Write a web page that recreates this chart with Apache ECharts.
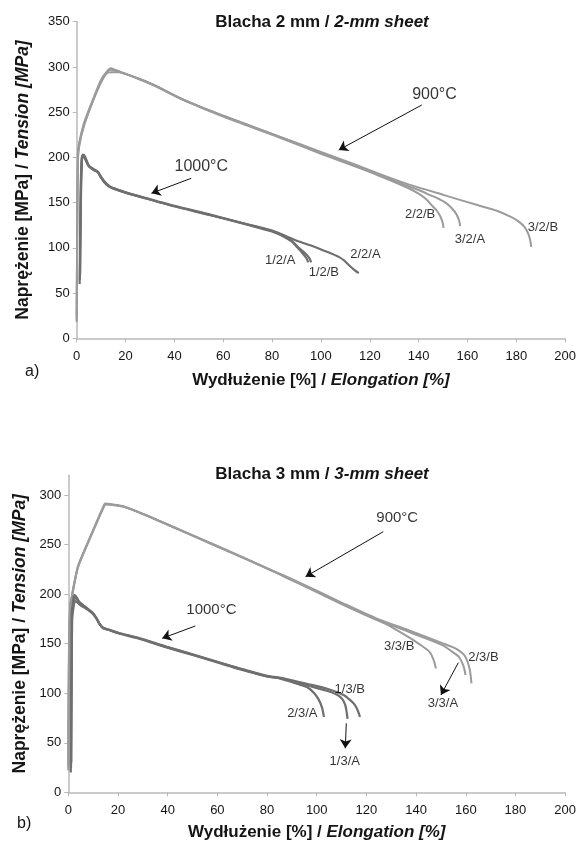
<!DOCTYPE html>
<html><head><meta charset="utf-8">
<script src="https://cdn.jsdelivr.net/npm/echarts@6/dist/echarts.min.js"></script>
<style>html,body{margin:0;padding:0;background:#fff}#c{width:579px;height:848px}</style>
</head><body><div id="c"></div>
<script>
// ---------- DATA ----------
const xTicks = [0, 20, 40, 60, 80, 100, 120, 140, 160, 180, 200];
const yTicksTop = [0, 50, 100, 150, 200, 250, 300, 350];
const yTicksBottom = [0, 50, 100, 150, 200, 250, 300];

// (a) 2-mm sheet, 900°C
const a900_22B = [[0,20],[0.2,120],[0.5,200],[1,214],[3,236],[6.5,262],[10,284],[12.6,295],[14,297],[17,295],[27,285.5],[31.6,280],[43.5,264],[60,245],[83,222],[100,204],[115,189],[123.6,180],[135,167],[140,160],[143,154],[145.4,147],[147.5,141],[149.2,133],[150,126],[150.2,122]];
const a900_32A = [[0,25],[0.2,130],[0.5,205],[1,216],[3,238],[6.5,263],[10,286],[13,297],[14,298.5],[15.5,297],[18,294.5],[27,285],[31.6,280],[43.5,264],[60,246],[83,223],[100,205],[115,190],[123.6,181],[135,169],[140,164],[145,158],[148,154.5],[151,150],[153.5,144],[155.5,137],[156.6,130],[157,124]];
const a900_32B = [[0,18],[0.2,110],[0.5,195],[1,212],[3,235],[6.5,261],[10,283],[12.6,293.5],[14,294],[17,294],[27,285],[31.6,279.5],[43.5,263.5],[60,246],[83,223],[100,206],[115,191],[123.6,182],[135,171],[150.8,158],[164.4,147],[172,141],[178,134],[181,129],[183.4,123],[185,115],[185.8,107],[186.1,101]];
// (a) 2-mm sheet, 1000°C
const a1000_12A = [[1.2,60],[1.6,160],[2,198],[2.4,202],[3.2,200],[5,190],[7,186],[8.6,184],[9.9,178],[11.5,172],[13.3,168],[15,165.8],[20,161],[25.8,156.5],[40,146],[55,136],[70.6,125],[80,118],[85,112],[88,107],[90.5,100],[92.8,93],[94.2,88],[94.8,84]];
const a1000_12B = [[1.4,70],[1.8,165],[2.2,199],[2.6,203],[3.4,201],[5,191],[7,187],[8.6,184.5],[9.9,179],[11.5,173],[13.3,168.5],[15,166],[20,161.5],[25.8,157],[40,146.5],[55,136.5],[70.6,125.5],[80,118.5],[85,113],[88,108],[91,100],[93.5,94],[95.2,89],[96,84]];
const a1000_22A = [[1.3,65],[1.7,160],[2.1,197],[2.5,201],[3.3,199],[5,190],[7,186],[8.6,183.5],[9.9,178],[11.5,172],[13.3,167.5],[15,165.5],[20,161],[25.8,156.5],[40,146],[55,136],[70.6,125.5],[80,119],[91,107],[96,102.5],[100.5,97.6],[104,94],[107.3,90],[109.5,86],[111.4,81],[113.5,76],[115.5,72]];

// (b) 3-mm sheet, 900°C
const b900_33B = [[0,25],[0.3,150],[0.8,190],[1.2,194],[1.9,204],[3.9,227.6],[7.8,251.3],[11.8,274.8],[14.6,290],[15.1,291],[18,290],[22.4,288],[31,279.8],[50,259],[70,237],[84.3,221],[88.3,216],[100,202],[110,190],[124,174],[130,167],[137.3,156],[141,150],[145.3,142],[147,134],[148,125]];
const b900_33A = [[0,22],[0.3,145],[0.8,188],[1.2,193],[1.9,203],[3.9,227],[7.8,251],[11.8,274],[14.6,289.5],[15.1,290.5],[18,290],[22.4,288.2],[31,279.8],[50,259],[70,237],[84.3,221],[88.3,216.5],[100,202.5],[110,190.5],[124,174.5],[137,162],[150.6,148.6],[155,141],[157.2,136.8],[159,128],[159.9,118.4]];
const b900_23B = [[0,28],[0.3,155],[0.8,192],[1.2,195],[1.9,205],[3.9,228],[7.8,252],[11.8,275],[14.6,291],[15.1,291.5],[18,290.5],[22.4,288.5],[31,280],[50,259.5],[70,237.5],[84.3,221.5],[88.3,217],[100,203.5],[110,191.5],[124,175.5],[137,163.5],[150.6,150.5],[156,145],[159.5,138],[161.5,125],[162.3,110]];
// (b) 3-mm sheet, 1000°C
const b1000_23A = [[1.0,20],[1.2,120],[1.4,180],[2.0,195],[2.5,199],[3.3,197],[4.5,192],[6,189],[8,185],[10,180.6],[11.5,175],[12.6,170],[14,166],[16.6,163.8],[20,161],[28.5,155.4],[39.2,147],[50,139],[60,131.5],[70,124],[80,117],[84.3,115.5],[88.3,112.5],[92,109.5],[96.2,106],[99,100],[100.9,93],[102.2,85],[102.9,76]];
const b1000_13A = [[1.1,25],[1.3,125],[1.5,178],[2.1,192],[2.6,196],[3.4,195],[4.6,191],[6,188],[8,184],[10,180],[11.5,174.5],[12.6,169.5],[14,165.5],[16.6,163.5],[20,160.5],[28.5,155],[39.2,146.5],[50,138.5],[60,131],[70,123.5],[80,117],[84.3,115.5],[88.3,113.5],[96,108],[104,102.5],[108.2,98.5],[110.3,94],[111.5,88],[112.1,80],[112.4,74]];
const b1000_13B = [[1.2,30],[1.4,130],[1.6,176],[2.2,188],[2.7,193],[3.5,192],[4.7,189],[6,187],[8,184],[10,180],[11.5,175],[12.6,170],[14,166],[16.6,164],[20,161],[28.5,155.6],[39.2,147.2],[50,139.2],[60,131.8],[70,124.3],[80,117.5],[84.3,116],[88.3,114],[96,109.5],[104.2,104.5],[110.8,98.2],[113.5,93],[115.4,88],[116.6,82],[117.4,76]];

// annotations (data coordinates)
const aTempLabels = [[146.5,269,'900°C'],[51,189.7,'1000°C']];
const aSampleLabels = [[140.6,137.4,'2/2/B'],[161,109.8,'3/2/A'],[190.9,122.5,'3/2/B'],[118.2,93.2,'2/2/A'],[101.2,72.7,'1/2/B'],[83.3,86.6,'1/2/A']];
const aArrows = [[[141.3,257.9],[107.3,208.2]],[[46.9,176.9],[30.6,160.3]]];
const bTempLabels = [[132.4,277.3,'900°C'],[57.6,184,'1000°C']];
const bSampleLabels = [[133.2,147.6,'3/3/B'],[167.1,136.5,'2/3/B'],[150.8,89.6,'3/3/A'],[113.3,104.2,'1/3/B'],[94.2,80,'2/3/A'],[111.3,31.6,'1/3/A']];
const bArrows = [[[126.8,263],[95.5,217.6]],[[51.1,167.8],[37.8,155.4]],[[157,130.8],[150,98.2]],[[111.9,69.6],[111.5,44.4]]];

// ---------- CHART ----------
const FONT = 'Liberation Sans, Arial, sans-serif';
const C900 = '#9b9b9b', C1000 = '#6f6f6f', AXIS = '#b9b9b9', TXT = '#151515';
const chart = echarts.init(document.getElementById('c'), null, {renderer: 'canvas'});

function xAxisOpt(gi, gap) {
  return {
    type: 'value', gridIndex: gi, min: 0, max: 200, interval: 20,
    splitLine: {show: false},
    axisLine: {lineStyle: {color: AXIS, width: 1.5}},
    axisTick: {show: true, length: 4, lineStyle: {color: AXIS, width: 1}},
    axisLabel: {color: TXT, fontSize: 13, fontFamily: FONT, margin: 12},
    name: '{n|Wydłużenie [%] / }{i|Elongation [%]}',
    nameLocation: 'middle', nameGap: gap,
    nameTextStyle: {color: TXT, fontSize: 17, fontWeight: 'bold', fontFamily: FONT,
      rich: {n: {fontSize: 17, fontWeight: 'bold', fontFamily: FONT, color: TXT},
             i: {fontSize: 17, fontWeight: 'bold', fontStyle: 'italic', fontFamily: FONT, color: TXT}}}
  };
}
function yAxisOpt(gi, max, ticks, gap) {
  return {
    type: 'value', gridIndex: gi, min: 0, max: max, interval: 50,
    splitLine: {show: false},
    axisLine: {show: true, lineStyle: {color: AXIS, width: 1.5}},
    axisTick: {show: true, length: 4, lineStyle: {color: AXIS, width: 1}, customValues: ticks},
    axisLabel: {color: TXT, fontSize: 13, fontFamily: FONT, margin: 7, customValues: ticks},
    name: '{n|Naprężenie [MPa] / }{i|Tension [MPa]}',
    nameLocation: 'middle', nameGap: gap,
    nameTextStyle: {color: TXT, fontSize: 17.5, fontWeight: 'bold', fontFamily: FONT,
      rich: {n: {fontSize: 17.5, fontWeight: 'bold', fontFamily: FONT, color: TXT},
             i: {fontSize: 17.5, fontWeight: 'bold', fontStyle: 'italic', fontFamily: FONT, color: TXT}}}
  };
}
function curve(data, gi, color, w) {
  return {type: 'line', xAxisIndex: gi, yAxisIndex: gi, data: data, showSymbol: false, symbol: 'none',
    smooth: 0.25, lineStyle: {color: color, width: w}, silent: true, z: 2, animation: false};
}
function labels(arr, gi, size) {
  return {type: 'scatter', xAxisIndex: gi, yAxisIndex: gi, symbolSize: 0.01, silent: true, z: 5, animation: false,
    data: arr.map(d => ({value: [d[0], d[1]], name: d[2]})),
    label: {show: true, position: 'inside', formatter: '{b}', color: '#000', fontSize: size, fontFamily: FONT}};
}
function arrows(arr, gi) {
  return {type: 'scatter', xAxisIndex: gi, yAxisIndex: gi, data: [], silent: true, animation: false,
    markLine: {silent: true, animation: false, symbol: ['none', 'arrow'], symbolSize: 9,
      label: {show: false}, lineStyle: {color: '#111', width: 1, type: 'solid'},
      emphasis: {disabled: true},
      data: arr.map(a => [{coord: a[0]}, {coord: a[1]}])}};
}

const option = {
  animation: false,
  backgroundColor: '#fff',
  grid: [
    {left: 76.7, top: 21.7, width: 490.6, height: 316.6},
    {left: 68.3, top: 475.2, width: 502.4, height: 317.1}
  ],
  xAxis: [xAxisOpt(0, 34), xAxisOpt(1, 32)],
  yAxis: [yAxisOpt(0, 350, yTicksTop, 45), yAxisOpt(1, 320, yTicksBottom, 39)],
  graphic: [
    {type: 'text', left: 25, top: 364, style: {text: 'a)', font: '16px ' + FONT, fill: TXT}},
    {type: 'text', left: 17, top: 816, style: {text: 'b)', font: '16px ' + FONT, fill: TXT}},
    {type: 'text', x: 322, y: 22, style: {text: '{n|Blacha 2 mm / }{i|2-mm sheet}', align: 'center', verticalAlign: 'middle',
      rich: {n: {fontSize: 17, fontWeight: 'bold', fontFamily: FONT, fill: TXT},
             i: {fontSize: 17, fontWeight: 'bold', fontStyle: 'italic', fontFamily: FONT, fill: TXT}}}},
    {type: 'text', x: 322, y: 474, style: {text: '{n|Blacha 3 mm / }{i|3-mm sheet}', align: 'center', verticalAlign: 'middle',
      rich: {n: {fontSize: 17, fontWeight: 'bold', fontFamily: FONT, fill: TXT},
             i: {fontSize: 17, fontWeight: 'bold', fontStyle: 'italic', fontFamily: FONT, fill: TXT}}}}
  ],
  series: [
    curve(a900_22B, 0, C900, 2), curve(a900_32A, 0, C900, 2), curve(a900_32B, 0, C900, 2),
    curve(a1000_12A, 0, C1000, 2.2), curve(a1000_12B, 0, C1000, 2.2), curve(a1000_22A, 0, C1000, 2.2),
    curve(b900_33B, 1, C900, 2), curve(b900_33A, 1, C900, 2), curve(b900_23B, 1, C900, 2),
    curve(b1000_23A, 1, C1000, 2.2), curve(b1000_13A, 1, C1000, 2.2), curve(b1000_13B, 1, C1000, 2.2),
    labels(aTempLabels, 0, 16), labels(aSampleLabels, 0, 13), arrows(aArrows, 0),
    labels(bTempLabels, 1, 15), labels(bSampleLabels, 1, 13), arrows(bArrows, 1)
  ]
};
chart.setOption(option);
</script></body></html>
